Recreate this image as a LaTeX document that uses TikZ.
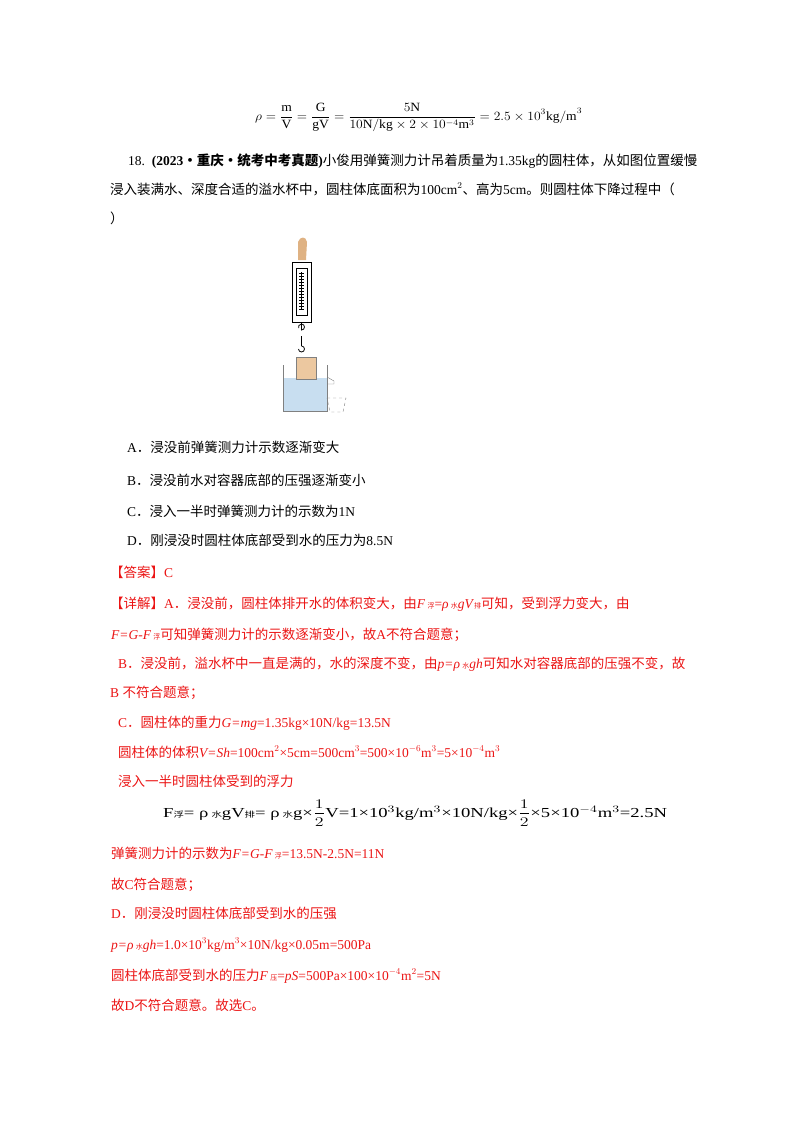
\documentclass[tikz,border=0pt]{standalone}
\usepackage{fontspec}
\usepackage{graphicx}
\setmainfont{Liberation Serif}
\newfontfamily\cjk{Noto Sans CJK SC}
\newcommand{\zh}[1]{{\cjk #1}}
\definecolor{ans}{RGB}{235,20,20}
\definecolor{water}{RGB}{200,222,240}
\definecolor{block}{RGB}{236,200,160}
\begin{document}
\begin{tikzpicture}[x=1pt,y=-1pt,
  t/.style={anchor=base west,inner sep=0,font=\fontsize{13.5}{15}\selectfont},
  r/.style={t,text=ans}]
\useasboundingbox (0,0) rectangle (800,1132);
\node[t,font=\fontsize{12}{14}\selectfont] (f1) at (255,120) {\scalebox{1.13}[1.05]{$\displaystyle\rho=\frac{\mathrm{m}}{\mathrm{V}}=\frac{\mathrm{G}}{\mathrm{gV}}=\frac{5\mathrm{N}}{10\mathrm{N/kg}\times2\times10^{-4}\mathrm{m}^3}=2.5\times10^3\mathrm{kg/m}^3$}};
\node[t] (q1) at (128,165) {18.\ \ \textbf{(2023\zh{·重庆·统考中考真题})}\zh{小俊用弹簧测力计吊着质量为}1.35kg\zh{的圆柱体，从如图位置缓慢}};
\node[t] (q2) at (110,194) {\zh{浸入装满水、深度合适的溢水杯中，圆柱体底面积为}100cm$^2$\zh{、高为}5cm\zh{。则圆柱体下降过程中（}};
\node[t] (q3) at (110,223) {\zh{）}};
% figure
\fill[block!70!brown] (298,242) .. controls (300,236) and (306,236) .. (307,242) -- (306,260) -- (298,260) -- cycle;
\draw[thick,fill=white] (292,262) rectangle (311,322);
\draw (296,268) rectangle (307,315);
\draw[thick] (301.5,272) -- (301.5,310);
\foreach \i in {0,...,12} \draw (299,273+3*\i) -- (304,273+3*\i);
\draw[thick] (301.5,322) -- (301.5,330) arc (90:-200:3);
\draw (301.5,336) -- (301.5,346);
\draw[thick] (301.5,346) arc (-90:180:3) ;
\fill[water] (283,378) rectangle (327,411);
\draw[gray] (283,365) -- (283,411) -- (327,411) -- (327,365);
\draw[gray] (327,377) -- (334,381) -- (334,384) -- (327,384);
\draw[fill=block,draw=gray] (296,357) rectangle (316,379);
\draw[gray,dashed] (327,398) -- (346,398) -- (343,412) -- (330,412) -- cycle;
% options
\node[t] (a) at (127,452) {A\zh{．浸没前弹簧测力计示数逐渐变大}};
\node[t] (b) at (127,485) {B\zh{．浸没前水对容器底部的压强逐渐变小}};
\node[t] (c) at (127,516) {C\zh{．浸入一半时弹簧测力计的示数为}1N};
\node[t] (d) at (127,545) {D\zh{．刚浸没时圆柱体底部受到水的压力为}8.5N};
\node[r] (an) at (110,577) {\zh{【答案】}C};
\node[r] (e1) at (110,608) {\zh{【详解】}A\zh{．浸没前，圆柱体排开水的体积变大，由}\textit{F}\,{\scriptsize\zh{浮}}=\textit{ρ}\,{\scriptsize\zh{水}}\textit{gV}{\scriptsize\zh{排}}\zh{可知，受到浮力变大，由}};
\node[r] (e2) at (111,639) {\textit{F=G-F}\,{\scriptsize\zh{浮}}\zh{可知弹簧测力计的示数逐渐变小，故}A\zh{不符合题意；}};
\node[r] (e3) at (118,668) {B\zh{．浸没前，溢水杯中一直是满的，水的深度不变，由}\textit{p=ρ}\,{\scriptsize\zh{水}}\textit{gh}\zh{可知水对容器底部的压强不变，故}};
\node[r] (e4) at (110,697) {B \zh{不符合题意；}};
\node[r] (e5) at (118,727) {C\zh{．圆柱体的重力}\textit{G=mg}=1.35kg×10N/kg=13.5N};
\node[r] (e6) at (118,757) {\zh{圆柱体的体积}\textit{V=Sh}=100cm$^2$×5cm=500cm$^3$=500×10$^{-6}$m$^3$=5×10$^{-4}$m$^3$};
\node[r] (e7) at (118,786) {\zh{浸入一半时圆柱体受到的浮力}};
\node[t,font=\fontsize{12.5}{14}\selectfont] (f2) at (163,817) {\scalebox{1.49}[1.1]{F{\scriptsize\zh{浮}}= ρ\,{\scriptsize\zh{水}}gV{\scriptsize\zh{排}}= ρ\,{\scriptsize\zh{水}}g×$\displaystyle\frac{1}{2}$V=1×10$^3$kg/m$^3$×10N/kg×$\displaystyle\frac{1}{2}$×5×10$^{-4}$m$^3$=2.5N}};
\node[r] (e8) at (111,858) {\zh{弹簧测力计的示数为}\textit{F=G-F}\,{\scriptsize\zh{浮}}=13.5N-2.5N=11N};
\node[r] (e9) at (111,889) {\zh{故}C\zh{符合题意；}};
\node[r] (e10) at (111,918) {D\zh{．刚浸没时圆柱体底部受到水的压强}};
\node[r] (e11) at (111,949) {\textit{p=ρ}\,{\scriptsize\zh{水}}\textit{gh}=1.0×10$^3$kg/m$^3$×10N/kg×0.05m=500Pa};
\node[r] (e12) at (111,980) {\zh{圆柱体底部受到水的压力}\textit{F}\,{\scriptsize\zh{压}}=\textit{pS}=500Pa×100×10$^{-4}$m$^2$=5N};
\node[r] (e13) at (111,1010) {\zh{故}D\zh{不符合题意。故选}C\zh{。}};
\end{tikzpicture}
\end{document}
